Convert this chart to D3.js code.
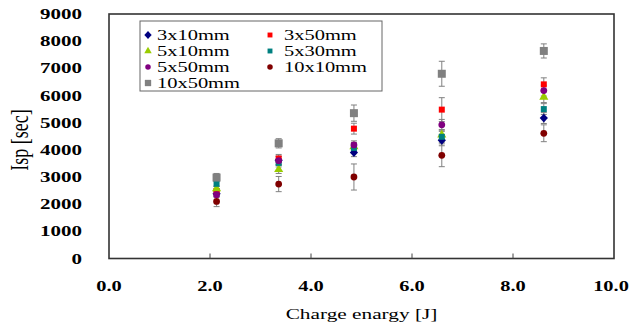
<!DOCTYPE html>
<html><head><meta charset="utf-8">
<script src="https://cdn.jsdelivr.net/npm/d3@7"></script>
<style>body{margin:0;background:#fff}svg{display:block}</style>
</head><body>
<svg id="c" width="630" height="324"></svg>
<script>
const energies = [2.13, 3.36, 4.85, 6.59, 8.61];
const seriesNames = ["3x10mm","3x50mm","5x10mm","5x30mm","5x50mm","10x10mm","10x50mm"];
const s3x10  = [2380, 3620, 3900, 4350, 5170];
const s3x50  = [2480, 3680, 4780, 5480, 6410];
const s5x10  = [2570, 3280, 4120, 4550, 5940];
const s5x30  = [2750, 3520, 4070, 4480, 5500];
const s5x50  = [2350, 3600, 4180, 4920, 6180];
const s10x10 = [2100, 2740, 3000, 3800, 4610];
const s10x50 = [2980, 4240, 5350, 6800, 7640];
const e3x10  = [100, 150, 150, 200, 200];
const e3x50  = [100, 150, 200, 440, 240];
const e5x10  = [100, 150, 150, 200, 200];
const e5x30  = [100, 150, 150, 200, 200];
const e5x50  = [100, 150, 150, 200, 200];
const e10x10 = [190, 280, 480, 420, 310];
const e10x50 = [150, 170, 300, 460, 260];
const xTicks = [0,2,4,6,8,10];
const yTicks = [0,1000,2000,3000,4000,5000,6000,7000,8000,9000];
const xTitle = "Charge enargy [J]";
const yTitle = "Isp [sec]";

const values = [s3x10,s3x50,s5x10,s5x30,s5x50,s10x10,s10x50];
const errors = [e3x10,e3x50,e5x10,e5x30,e5x50,e10x10,e10x50];
const styles = [
  {color:"#000080", sym:d3.symbolDiamond, size:30, stretch:"scale(1.4,0.85)"},
  {color:"#ff0000", sym:d3.symbolSquare, size:36, stretch:""},
  {color:"#99cc00", sym:d3.symbolTriangle, size:36, stretch:""},
  {color:"#008080", sym:d3.symbolSquare, size:36, stretch:""},
  {color:"#800080", sym:d3.symbolCircle, size:36, stretch:""},
  {color:"#800000", sym:d3.symbolCircle, size:36, stretch:""},
  {color:"#808080", sym:d3.symbolSquare, size:64, stretch:""}
];

const svg = d3.select("#c");
const x = d3.scaleLinear().domain([0,10]).range([109,614]);
const y = d3.scaleLinear().domain([0,9000]).range([258.5,14]);
const font = "'Liberation Serif','Times New Roman',serif";

function stext(g, tx, ty, str, anchor, size, weight, sx) {
  return g.append("text")
    .attr("transform", `translate(${tx},${ty}) scale(${sx},1)`)
    .attr("text-anchor", anchor)
    .attr("font-family", font)
    .attr("font-size", size)
    .attr("font-weight", weight || "normal")
    .attr("fill", "#000")
    .text(str);
}

// frame
svg.append("rect").attr("x", x(0)).attr("y", y(9000))
  .attr("width", x(10)-x(0)).attr("height", y(0)-y(9000))
  .attr("fill","none").attr("stroke","#333").attr("stroke-width",1.6);

// x ticks (inward)
svg.append("g").selectAll("line").data(xTicks.slice(1,-1)).join("line")
  .attr("x1", d=>x(d)).attr("x2", d=>x(d))
  .attr("y1", y(0)).attr("y2", y(0)-5)
  .attr("stroke","#444").attr("stroke-width",1);

// tick labels
const tl = svg.append("g");
xTicks.forEach(t => stext(tl, x(t) + (t === 10 ? -3 : 0), 291, t.toFixed(1), "middle", 15, "bold", 1.36));
yTicks.forEach(t => stext(tl, 82, y(t)+5, String(t), "end", 15, "bold", 1.4));

// axis titles
stext(svg, x(5), 319, xTitle, "middle", 15, "normal", 1.42);
svg.append("text")
  .attr("transform", `translate(28,140) rotate(-90) scale(1,1.35)`)
  .attr("text-anchor","middle")
  .attr("font-family", font).attr("font-size", 18)
  .text(yTitle);

// error bars
const eb = svg.append("g").attr("stroke","#808080").attr("stroke-width",1);
values.forEach((vals, si) => {
  vals.forEach((v, i) => {
    const e = errors[si][i];
    const cx = x(energies[i]);
    eb.append("line").attr("x1",cx).attr("x2",cx).attr("y1",y(v-e)).attr("y2",y(v+e));
    eb.append("line").attr("x1",cx-3).attr("x2",cx+3).attr("y1",y(v-e)).attr("y2",y(v-e));
    eb.append("line").attr("x1",cx-3).attr("x2",cx+3).attr("y1",y(v+e)).attr("y2",y(v+e));
  });
});

// markers
values.forEach((vals, si) => {
  const st = styles[si];
  svg.append("g").selectAll("path").data(vals).join("path")
    .attr("d", d3.symbol().type(st.sym).size(st.size))
    .attr("transform", (d,i) => `translate(${x(energies[i])},${y(d)}) ${st.stretch}`)
    .attr("fill", st.color);
});

// legend
const lg = svg.append("g");
lg.append("rect").attr("x",140).attr("y",21).attr("width",242).attr("height",70)
  .attr("fill","#fff").attr("stroke","#666").attr("stroke-width",1);
seriesNames.forEach((name, i) => {
  const col = i % 2, row = Math.floor(i / 2);
  const mx = col === 0 ? 148 : 270;
  const cy = 35 + row * 16;
  const st = styles[i];
  lg.append("path")
    .attr("d", d3.symbol().type(st.sym).size(i===6 ? 40 : 24))
    .attr("transform", `translate(${mx},${cy}) ${st.stretch}`)
    .attr("fill", st.color);
  stext(lg, mx + (col === 0 ? 9 : 14), cy + 5, name, "start", 15.5, "normal", 1.32);
});
</script>
</body></html>
